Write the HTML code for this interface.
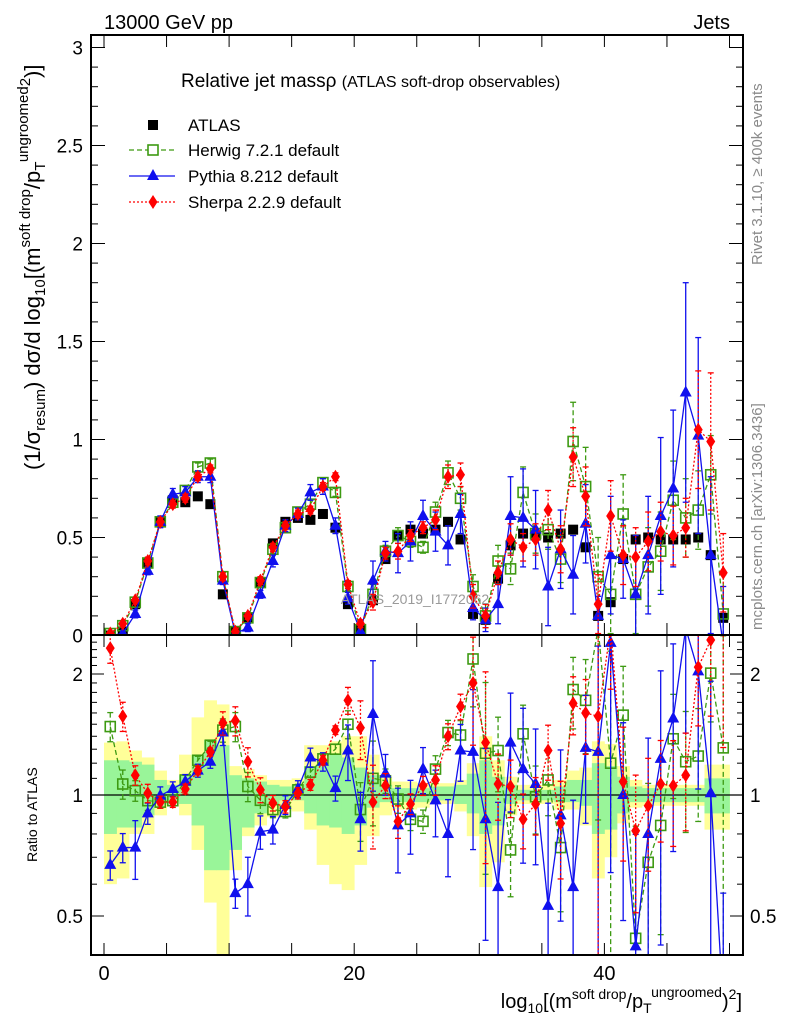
<!DOCTYPE html>
<html><head><meta charset="utf-8">
<style>
html,body{margin:0;padding:0;background:#fff;overflow:hidden;width:786px;height:1024px;}
svg{display:block;font-family:"Liberation Sans",sans-serif;}
</style></head>
<body>
<svg id="chart" width="786" height="1024" viewBox="0 0 786 1024" xmlns="http://www.w3.org/2000/svg">
<defs>
<clipPath id="clipMain"><rect x="91" y="35" width="652" height="600"/></clipPath>
<clipPath id="clipRatio"><rect x="91" y="635" width="652" height="320"/></clipPath>
</defs>
<g id="bands"></g>
<g id="marks"></g>
<g id="axes"></g>
<text x="104" y="29" font-size="20">13000 GeV pp</text>
<text x="730" y="29" font-size="20" text-anchor="end">Jets</text>
<text x="181" y="87" font-size="19">Relative jet massρ <tspan font-size="16">(ATLAS soft-drop observables)</tspan></text>
<text x="415" y="604" font-size="14" fill="#9a9a9a" text-anchor="middle">ATLAS_2019_I1772062</text>
<text transform="translate(762,265) rotate(-90)" font-size="15" fill="#8a8a8a">Rivet 3.1.10, ≥ 400k events</text>
<text transform="translate(762,630) rotate(-90)" font-size="15" fill="#8a8a8a">mcplots.cern.ch [arXiv:1306.3436]</text>
<text transform="translate(40,470) rotate(-90)" font-size="22">(1/σ<tspan font-size="15" dy="5">resum</tspan><tspan dy="-5">) dσ/d log</tspan><tspan font-size="15" dy="5">10</tspan><tspan dy="-5">[(m</tspan><tspan font-size="15" dy="-10">soft drop</tspan><tspan dy="10">/p</tspan><tspan font-size="15" dy="5">T</tspan><tspan font-size="15" dy="-17">ungroomed</tspan><tspan font-size="15" dy="2">2</tspan><tspan dy="10">)]</tspan></text>
<text transform="translate(37,862) rotate(-90)" font-size="14">Ratio to ATLAS</text>
<text x="742" y="1008" font-size="20" text-anchor="end">log<tspan font-size="14" dy="5">10</tspan><tspan dy="-5">[(m</tspan><tspan font-size="14" dy="-9">soft drop</tspan><tspan dy="9">/p</tspan><tspan font-size="14" dy="5">T</tspan><tspan font-size="14" dy="-16">ungroomed</tspan><tspan dy="11">)</tspan><tspan font-size="14" dy="-9">2</tspan><tspan dy="9">]</tspan></text>
<g id="legend"></g>
</svg>
<script>
const bins = Array.from({length:50},(_,i)=>i+0.5);
const atlasVals = [0.0,0.02,0.16,0.37,0.58,0.69,0.68,0.71,0.67,0.21,0.02,0.09,0.27,0.47,0.58,0.60,0.59,0.62,0.55,0.16,0.03,0.18,0.39,0.51,0.54,0.52,0.54,0.58,0.49,0.11,0.08,0.29,0.46,0.52,0.51,0.50,0.52,0.54,0.45,0.10,0.17,0.39,0.49,0.50,0.49,0.49,0.49,0.50,0.41,0.09];
const herwigVals = [0.01,0.05,0.17,0.37,0.58,0.68,0.74,0.86,0.88,0.30,0.02,0.09,0.27,0.44,0.55,0.63,0.67,0.78,0.73,0.25,0.03,0.21,0.43,0.51,0.48,0.45,0.63,0.83,0.70,0.25,0.10,0.38,0.34,0.73,0.52,0.54,0.39,0.99,0.76,0.30,0.21,0.62,0.21,0.35,0.43,0.69,0.60,0.64,0.82,0.11];
const pythiaVals = [0.0,0.01,0.11,0.33,0.58,0.72,0.73,0.81,0.81,0.28,0.01,0.04,0.21,0.38,0.56,0.62,0.73,0.76,0.56,0.19,0.02,0.28,0.43,0.42,0.48,0.61,0.53,0.46,0.62,0.14,0.08,0.16,0.61,0.60,0.54,0.25,0.44,0.31,0.57,0.10,0.41,0.39,0.21,0.41,0.61,0.75,1.24,1.02,0.41,-0.05];
const sherpaVals = [0.01,0.06,0.18,0.38,0.58,0.67,0.70,0.81,0.85,0.30,0.02,0.10,0.28,0.45,0.56,0.62,0.64,0.76,0.81,0.26,0.06,0.17,0.42,0.43,0.51,0.55,0.59,0.81,0.82,0.20,0.10,0.32,0.49,0.45,0.49,0.64,0.44,0.91,0.71,0.16,0.61,0.41,0.40,0.48,0.53,0.51,0.55,1.05,0.99,0.32];
const pythiaErr = [0.01,0.01,0.02,0.02,0.03,0.03,0.03,0.03,0.03,0.02,0.01,0.02,0.02,0.03,0.03,0.03,0.04,0.04,0.04,0.03,0.02,0.1,0.05,0.1,0.1,0.08,0.1,0.1,0.1,0.06,0.06,0.1,0.2,0.25,0.2,0.2,0.2,0.2,0.2,0.1,0.3,0.2,0.3,0.3,0.4,0.4,0.56,0.5,0.4,0.3];
const herwigErr = [0.01,0.01,0.01,0.02,0.02,0.02,0.02,0.02,0.02,0.02,0.01,0.01,0.02,0.02,0.02,0.02,0.02,0.02,0.02,0.02,0.02,0.05,0.03,0.04,0.03,0.03,0.05,0.06,0.06,0.06,0.06,0.08,0.08,0.13,0.1,0.1,0.12,0.2,0.2,0.2,0.2,0.2,0.2,0.2,0.2,0.2,0.2,0.2,0.2,0.2];
const sherpaErr = [0.01,0.01,0.01,0.02,0.02,0.02,0.02,0.02,0.02,0.02,0.01,0.01,0.02,0.02,0.02,0.02,0.02,0.02,0.02,0.02,0.02,0.04,0.03,0.04,0.03,0.03,0.05,0.06,0.06,0.06,0.06,0.06,0.08,0.07,0.08,0.1,0.12,0.15,0.15,0.15,0.18,0.15,0.15,0.15,0.15,0.15,0.15,0.3,0.35,0.2];
const herwigRatio = [1.48,1.065,1.025,0.968,0.96,0.968,1.09,1.22,1.33,1.45,1.48,1.05,0.97,0.92,0.91,1.03,1.14,1.23,1.30,1.50,0.92,1.10,1.085,0.977,0.87,0.86,1.16,1.43,1.41,2.18,1.27,1.29,0.73,1.42,0.99,1.09,0.74,1.83,1.72,2.6,1.20,1.58,0.44,0.68,0.84,1.38,1.21,1.25,2.01,1.31];
const pythiaRatio = [0.67,0.74,0.74,0.90,0.996,1.035,1.08,1.15,1.21,1.43,0.57,0.60,0.81,0.82,0.945,1.035,1.24,1.21,1.04,1.29,0.87,1.59,1.13,0.84,0.90,1.16,0.97,0.80,1.29,1.28,0.87,0.59,1.35,1.16,1.065,0.53,0.89,0.59,1.31,1.28,2.39,1.0,0.42,0.80,1.23,1.55,2.6,2.03,1.01,0.3];
const sherpaRatio = [2.32,1.57,1.12,1.01,0.96,0.96,1.035,1.15,1.28,1.51,1.53,1.21,1.03,0.955,0.935,1.01,1.06,1.22,1.45,1.72,1.47,0.96,1.055,0.86,0.95,1.055,1.09,1.40,1.66,1.90,1.35,1.065,1.05,0.87,0.95,1.29,0.85,1.69,1.60,1.57,2.6,1.08,0.815,0.94,1.065,1.055,1.12,2.08,2.43,3.5];
const yellowHi = [1.35,1.36,1.29,1.24,1.15,1.09,1.26,1.56,1.72,1.68,1.18,1.16,1.12,1.09,1.09,1.10,1.33,1.33,1.36,1.40,1.40,1.26,1.11,1.08,1.08,1.07,1.07,1.07,1.09,1.20,1.40,1.22,1.11,1.06,1.06,1.06,1.09,1.15,1.17,1.36,1.34,1.18,1.09,1.06,1.06,1.06,1.06,1.06,1.19,1.19];
const yellowLo = [0.60,0.62,0.80,0.80,0.89,0.96,0.89,0.73,0.54,0.38,0.65,0.79,0.84,0.88,0.92,0.91,0.82,0.67,0.60,0.58,0.67,0.79,0.89,0.92,0.92,0.93,0.95,0.95,0.91,0.79,0.59,0.68,0.89,0.95,0.95,0.95,0.92,0.92,0.84,0.62,0.70,0.85,0.93,0.94,0.94,0.94,0.94,0.94,0.82,0.82];
const greenHi = [1.22,1.22,1.21,1.19,1.09,1.06,1.12,1.26,1.37,1.33,1.12,1.10,1.08,1.06,1.05,1.06,1.18,1.19,1.26,1.24,1.17,1.12,1.06,1.04,1.04,1.04,1.05,1.05,1.06,1.13,1.22,1.11,1.06,1.03,1.03,1.03,1.05,1.09,1.09,1.20,1.18,1.11,1.05,1.04,1.04,1.04,1.04,1.04,1.10,1.10];
const greenLo = [0.80,0.83,0.83,0.89,0.95,0.97,0.95,0.84,0.65,0.65,0.73,0.83,0.90,0.95,0.97,0.97,0.90,0.84,0.83,0.80,0.84,0.93,0.96,0.96,0.96,0.96,0.97,0.97,0.95,0.90,0.80,0.84,0.95,0.97,0.97,0.97,0.96,0.96,0.94,0.80,0.82,0.90,0.96,0.96,0.96,0.96,0.96,0.96,0.90,0.90];
const mainTicks = [0,0.5,1,1.5,2,2.5,3];
const mainTickLabels = ["0","0.5","1","1.5","2","2.5","3"];
const ratioTicks = [0.5,1,2];
const ratioTickLabels = ["0.5","1","2"];
const xTicks = [0,20,40];
const xTickLabels = ["0","20","40"];

const NS="http://www.w3.org/2000/svg";
const X0=104, XU=12.51, XL=91, XR=743;
const MY0=635.5, MYU=196, MTOP=35, MBOT=635;
const RY1=795, RYU=121, RBOT=955;
function X(v){return X0+XU*v;}
function Y(v){return MY0-MYU*v;}
function YR(r){return RY1-RYU*Math.log2(r);}
function mk(tag,attrs,parent){const e=document.createElementNS(NS,tag);for(const k in attrs)e.setAttribute(k,attrs[k]);parent.appendChild(e);return e;}
const bandsG=document.getElementById('bands');
const marksG=document.getElementById('marks');
const axesG=document.getElementById('axes');
bandsG.setAttribute('clip-path','url(#clipRatio)');

for(let i=0;i<bins.length;i++){
  const y=mk('rect',{x:X(i),y:YR(yellowHi[i]),width:XU+0.4,height:YR(yellowLo[i])-YR(yellowHi[i]),fill:'#ffff99'},bandsG);
  
  
}
for(let i=0;i<bins.length;i++){
  const g=mk('rect',{x:X(i),y:YR(greenHi[i]),width:XU+0.4,height:YR(greenLo[i])-YR(greenHi[i]),fill:'#99f599'},bandsG);
  
  
}
mk('line',{x1:XL,x2:XR,y1:RY1,y2:RY1,stroke:'#000','stroke-width':1.3},bandsG);

function marker(type,cx,cy,color,parent){
  let e;
  if(type==='sq') e=mk('rect',{x:cx-5,y:cy-5,width:10,height:10,fill:'#000'},parent);
  else if(type==='osq') e=mk('rect',{x:cx-5,y:cy-5,width:10,height:10,fill:'none',stroke:color,'stroke-width':1.6},parent);
  else if(type==='tri') e=mk('polygon',{points:`${cx},${cy-7} ${cx-6},${cy+4} ${cx+6},${cy+4}`,fill:color},parent);
  else e=mk('polygon',{points:`${cx},${cy-7} ${cx-4.5},${cy} ${cx},${cy+7} ${cx+4.5},${cy}`,fill:color},parent);
  return e;
}
function series(name,vals,errs,mcVals,color,dash,type,clip,isRatio){
  const g=mk('g',{'clip-path':clip},marksG);
  
  
  const pts=bins.map((b,i)=>{const v=vals[i];return `${X(b)},${isRatio?YR(Math.max(v,0.05)):Y(v)}`;}).join(' ');
  mk('polyline',{points:pts,fill:'none',stroke:color,'stroke-width':1.3,'stroke-dasharray':dash},g);
  bins.forEach((b,i)=>{
    const v=vals[i]; const e=errs[i];
    let y1,y2,cy;
    if(isRatio){const rel=Math.min(e/Math.max(Math.abs(mcVals[i]),0.12),0.9);cy=YR(Math.max(v,0.05));y1=YR(v*(1+rel));y2=YR(Math.max(v*(1-rel),0.05));}
    else {cy=Y(v);y1=Y(v+e);y2=Y(v-e);}
    if(y2-y1>6){mk('line',{x1:X(b),x2:X(b),y1:y1,y2:y2,stroke:color,'stroke-width':1.3,'stroke-dasharray':dash},g);
      mk('line',{x1:X(b)-3,x2:X(b)+3,y1:y1,y2:y1,stroke:color,'stroke-width':1.3},g);
      mk('line',{x1:X(b)-3,x2:X(b)+3,y1:y2,y2:y2,stroke:color,'stroke-width':1.3},g);}
    const m=marker(type,X(b),cy,color,g);
    
    
  });
}
const ag=mk('g',{'clip-path':'url(#clipMain)'},marksG);


bins.forEach((b,i)=>{const m=marker('sq',X(b),Y(atlasVals[i]),'#000',ag);
  
  });
series('herwig-main',herwigVals,herwigErr,herwigVals,'#3d9a12','5,3','osq','url(#clipMain)',false);
series('pythia-main',pythiaVals,pythiaErr,pythiaVals,'#1010ee','none','tri','url(#clipMain)',false);
series('sherpa-main',sherpaVals,sherpaErr,sherpaVals,'#ff0000','2,2','dia','url(#clipMain)',false);
series('herwig-ratio',herwigRatio,herwigErr,herwigVals,'#3d9a12','5,3','osq','url(#clipRatio)',true);
series('pythia-ratio',pythiaRatio,pythiaErr,pythiaVals,'#1010ee','none','tri','url(#clipRatio)',true);
series('sherpa-ratio',sherpaRatio,sherpaErr,sherpaVals,'#ff0000','2,2','dia','url(#clipRatio)',true);

mk('rect',{x:XL,y:MTOP,width:XR-XL,height:MBOT-MTOP,fill:'none',stroke:'#000','stroke-width':2},axesG);
mk('rect',{x:XL,y:MBOT,width:XR-XL,height:RBOT-MBOT,fill:'none',stroke:'#000','stroke-width':2},axesG);
for(let k=0;k<=30;k++){const v=k*0.1;const y=Y(v);if(y<MTOP)continue;const L=(k%5===0)?14:7;
  mk('line',{x1:XL,x2:XL+L,y1:y,y2:y,stroke:'#000','stroke-width':1},axesG);
  mk('line',{x1:XR-L,x2:XR,y1:y,y2:y,stroke:'#000','stroke-width':1},axesG);}
mainTicks.forEach((v,i)=>{const t=mk('text',{x:83,y:Y(v)+7,'font-size':19,'text-anchor':'end'},axesG);t.textContent=mainTickLabels[i];
  
  });
[0.5,0.6,0.7,0.8,0.9,1.1,1.2,1.3,1.4,1.5,1.6,1.7,1.8,1.9,2.1,2.2,2.3,2.4].forEach(r=>{const y=YR(r);
  mk('line',{x1:XL,x2:XL+6,y1:y,y2:y,stroke:'#000','stroke-width':1},axesG);
  mk('line',{x1:XR-6,x2:XR,y1:y,y2:y,stroke:'#000','stroke-width':1},axesG);});
ratioTicks.forEach((r,i)=>{const y=YR(r);
  mk('line',{x1:XL,x2:XL+13,y1:y,y2:y,stroke:'#000','stroke-width':1},axesG);
  mk('line',{x1:XR-13,x2:XR,y1:y,y2:y,stroke:'#000','stroke-width':1},axesG);
  const t=mk('text',{x:83,y:y+7,'font-size':19,'text-anchor':'end'},axesG);t.textContent=ratioTickLabels[i];
  
  
  const t2=mk('text',{x:750,y:y+7,'font-size':19},axesG);t2.textContent=ratioTickLabels[i];
  
  });
for(let v=0;v<=50;v+=5){const x=X(v);
  [MTOP,MBOT].forEach(y0=>{mk('line',{x1:x,x2:x,y1:y0,y2:y0+12,stroke:'#000','stroke-width':1},axesG);});
  [MBOT,RBOT].forEach(y0=>{mk('line',{x1:x,x2:x,y1:y0-12,y2:y0,stroke:'#000','stroke-width':1},axesG);});}
xTicks.forEach((v,i)=>{const t=mk('text',{x:X(v),y:980,'font-size':20,'text-anchor':'middle'},axesG);t.textContent=xTickLabels[i];
  
  });

const lg=document.getElementById('legend');
const entries=[['ATLAS','sq','#000','none',125],['Herwig 7.2.1 default','osq','#3d9a12','5,3',150],['Pythia 8.212 default','tri','#1010ee','none',176],['Sherpa 2.2.9 default','dia','#ff0000','2,2',202]];
entries.forEach(en=>{const g=mk('g',{},lg);
  
  
  if(en[0]!=='ATLAS')mk('line',{x1:129,x2:175,y1:en[4],y2:en[4],stroke:en[2],'stroke-width':1.3,'stroke-dasharray':en[3]},g);
  const m=marker(en[1],153,en[4],en[2],g); if(en[1]==='osq')m.setAttribute('fill','#fff');
  const t=mk('text',{x:188,y:en[4]+6,'font-size':17},g);t.textContent=en[0];});
</script>
</body></html>
